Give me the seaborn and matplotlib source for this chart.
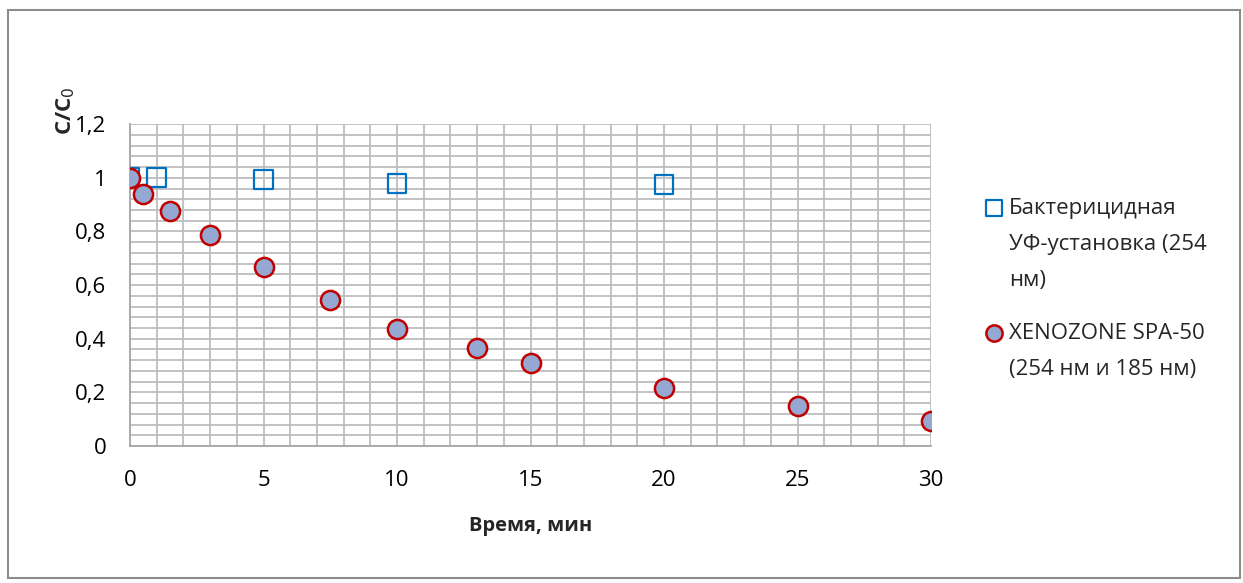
import matplotlib
matplotlib.use("Agg")
import matplotlib.pyplot as plt
from matplotlib.ticker import MultipleLocator, FuncFormatter
from matplotlib.patches import Rectangle
import seaborn as sns
import pandas as pd

# данные
uv_time = [0, 1, 5, 10, 20]
uv_conc = [1.0, 1.0, 0.994, 0.978, 0.974]
xeno_time = [0, 0.5, 1.5, 3, 5, 7.5, 10, 13, 15, 20, 25, 30]
xeno_conc = [1.0, 0.94, 0.877, 0.787, 0.668, 0.545, 0.437, 0.366, 0.310, 0.216, 0.149, 0.093]

# подписи легенды: первая строка идёт в легенду, остальные - продолжение
uv_label = ["Бактерицидная", "УФ-установка (254", "нм)"]
xeno_label = ["XENOZONE SPA-50", "(254 нм и 185 нм)"]

sns.set_style("white")
plt.rcParams["font.family"] = ["Open Sans", "DejaVu Sans"]

df_uv = pd.DataFrame({"t": uv_time, "c": uv_conc})
df_xeno = pd.DataFrame({"t": xeno_time, "c": xeno_conc})

fig = plt.figure(figsize=(12.43, 5.83), dpi=100)
ax = fig.add_axes([0.1046, 0.235, 0.6444, 0.552])

sns.scatterplot(data=df_uv, x="t", y="c", ax=ax, marker="s", s=180,
                facecolor="none", edgecolor="#0070c0", linewidth=1.6,
                label=uv_label[0], zorder=3)
sns.scatterplot(data=df_xeno, x="t", y="c", ax=ax, marker="o", s=190,
                color="#95a8d2", edgecolor="#c00000", linewidth=1.8,
                label=xeno_label[0], zorder=4)

ax.set_xlim(0, 30)
ax.set_ylim(0, 1.2)
ax.xaxis.set_major_locator(MultipleLocator(5))
ax.xaxis.set_minor_locator(MultipleLocator(1))
ax.yaxis.set_major_locator(MultipleLocator(0.2))
ax.yaxis.set_minor_locator(MultipleLocator(0.04))
ax.yaxis.set_major_formatter(FuncFormatter(lambda v, p: f"{v:g}".replace(".", ",")))
ax.grid(which="both", color="#bdbdbd", linewidth=1.3)
ax.set_axisbelow(True)

for side in ["top", "right"]:
    ax.spines[side].set_visible(False)
for side in ["left", "bottom"]:
    ax.spines[side].set_color("#a6a6a6")
    ax.spines[side].set_linewidth(1.3)

ax.tick_params(which="major", direction="out", length=8, width=1.3, color="#a6a6a6",
               labelsize=16, labelcolor="black", pad=9)
ax.tick_params(which="minor", length=0)

ax.set_xlabel("Время, мин", fontsize=14.5, fontweight="bold", labelpad=18)
ax.set_ylabel("")
fig.text(0.053, 0.81, "C/C$_0$", rotation=90, fontsize=16, fontweight="bold",
         ha="center", va="center")

leg = ax.legend(loc="upper left", bbox_to_anchor=(0.791, 0.660), bbox_transform=fig.transFigure,
                frameon=False, fontsize=16, handletextpad=0.15, labelspacing=4.65,
                borderaxespad=0, borderpad=0, handlelength=1.0, markerscale=0.85)

# продолжение многострочных подписей под первой строкой
fig.canvas.draw()
W, H = fig.bbox.width, fig.bbox.height
step = 36
for t, lines in zip(leg.get_texts(), [uv_label, xeno_label]):
    bb = t.get_window_extent()
    yc = (bb.y0 + bb.y1) / 2
    for k, line in enumerate(lines[1:], start=1):
        fig.text(bb.x0 / W, (yc - k * step) / H, line, fontsize=16, ha="left", va="center")

fig.patches.append(Rectangle((8 / 1243, 5 / 583), 1232 / 1243, 568 / 583, transform=fig.transFigure,
                             fill=False, edgecolor="#8c8c8c", linewidth=1.5))

fig.savefig("out.png", dpi=100)
